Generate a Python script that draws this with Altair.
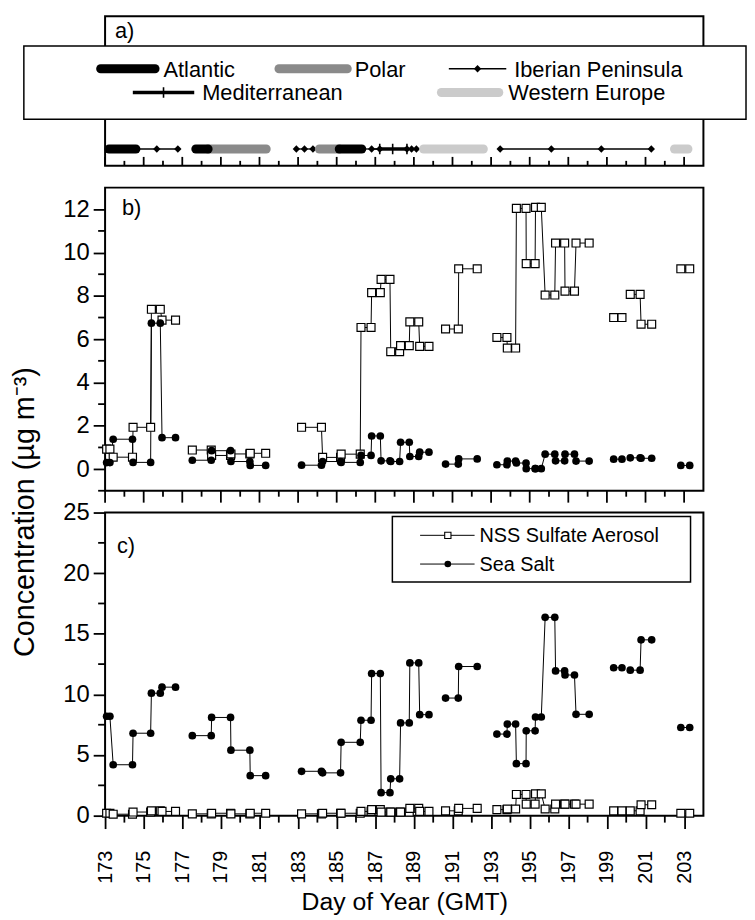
import altair as alt
import pandas as pd

# ---------------- data ----------------
sample_start = [173.08, 173.42, 174.45, 175.40, 175.95,
                177.52, 178.52, 179.52, 180.52,
                183.18, 184.27, 185.23, 186.26, 186.81, 187.30, 187.80, 188.31, 188.79, 189.30,
                190.64, 191.32,
                193.30, 193.84, 194.31, 194.82, 195.30, 195.80, 196.34, 196.83, 197.40,
                199.35, 200.21, 200.77,
                202.83]
sample_end = [173.25, 174.42, 175.36, 175.86, 176.65,
              178.50, 179.50, 180.50, 181.32,
              184.21, 185.20, 186.22, 186.78, 187.26, 187.76, 188.26, 188.76, 189.25, 189.78,
              191.30, 192.28,
              193.82, 194.27, 194.81, 195.28, 195.60, 196.30, 196.81, 197.32, 198.08,
              199.78, 200.72, 201.32,
              203.29]
sample_group = [1, 1, 1, 1, 1,
                2, 2, 2, 2,
                3, 3, 3, 3, 3, 3, 3, 3, 3, 3,
                4, 4,
                5, 5, 5, 5, 5, 5, 5, 5, 5,
                6, 7, 7,
                8]
b_nss = [0.92, 0.55, 1.93, 7.38, 6.88,
         0.88, 0.63, 0.70, 0.73,
         1.93, 0.54, 0.69, 6.54, 8.15, 8.76, 5.42, 5.70, 6.80, 5.67,
         6.47, 9.25,
         6.08, 5.59, 12.04, 9.49, 12.09, 8.04, 10.44, 8.22, 10.44,
         7.00, 8.07, 6.69,
         9.25]
b_sea_salt = [0.30, 1.38, 0.31, 6.74, 1.45,
              0.41, 0.85, 0.35, 0.17,
              0.18, 0.35, 0.31, 0.63, 1.53, 0.38, 0.35, 1.24, 0.58, 0.78,
              0.23, 0.47,
              0.20, 0.37, 0.28, 0.02, 0.02, 0.69, 0.38, 0.69, 0.37,
              0.46, 0.52, 0.50,
              0.17]
c_sea_salt = [8.2, 4.2, 6.8, 10.1, 10.6,
              6.6, 8.1, 5.4, 3.3,
              3.66, 3.53, 6.05, 7.87, 11.72, 1.9, 3.04, 7.65, 12.6, 8.33,
              9.7, 12.3,
              6.73, 7.55, 4.29, 7.0, 8.14, 16.36, 11.94, 11.6, 8.36,
              12.2, 12.0, 14.5,
              7.27]
c_nss = [0.2, 0.12, 0.3, 0.4, 0.35,
         0.15, 0.2, 0.15, 0.2,
         0.15, 0.2, 0.2, 0.35, 0.5, 0.3, 0.3, 0.3, 0.6, 0.35,
         0.4, 0.6,
         0.5, 0.55, 1.75, 0.95, 1.8, 0.55, 0.95, 0.95, 0.95,
         0.4, 0.4, 0.9,
         0.2]

series_names = ["NSS Sulfate Aerosol", "Sea Salt"]
panel_labels = ["a)", "b)", "c)"]
airmass_names = ["Atlantic", "Polar", "Iberian Peninsula", "Mediterranean", "Western Europe"]

atlantic_spans = [[173.2, 174.6], [177.7, 178.34], [185.13, 186.3]]
polar_spans = [[178.34, 181.35], [184.1, 185.13]]
western_spans = [[189.5, 192.6], [202.5, 203.2]]
iberian_runs = [[174.6, 175.68, 176.77],
                [182.91, 183.33, 183.77, 184.1],
                [186.3, 186.81, 187.23],
                [188.64, 188.88, 189.13, 189.5],
                [193.47, 196.12, 198.71, 201.3]]
mediterranean_runs = [[187.23, 187.9, 188.64]]

x_domain = [173, 204]
x_major_ticks = [173, 175, 177, 179, 181, 183, 185, 187, 189, 191, 193, 195, 197, 199, 201, 203]
x_minor_ticks = [174, 176, 178, 180, 182, 184, 186, 188, 190, 192, 194, 196, 198, 200, 202]
b_domain = [-1, 13]
b_major_ticks = [0, 2, 4, 6, 8, 10, 12]
b_minor_ticks = [-1, 1, 3, 5, 7, 9, 11]
c_domain = [0, 25]
c_major_ticks = [0, 5, 10, 15, 20, 25]
c_minor_ticks = [2.5, 7.5, 12.5, 17.5, 22.5]


# ---------------- tables built from the arrays ----------------
def sample_table(nss_vals, ss_vals):
    rows = []
    k = 0
    for name, vals in ((series_names[0], nss_vals), (series_names[1], ss_vals)):
        for i in range(len(sample_start)):
            for d in (sample_start[i], sample_end[i]):
                rows.append({"day": d, "value": vals[i], "series": name,
                             "run": f"{name}-{sample_group[i]}", "ord": k})
                k += 1
    return pd.DataFrame(rows)


def air_table():
    rows = []
    k = 0
    groups = [(airmass_names[0], atlantic_spans), (airmass_names[1], polar_spans),
              (airmass_names[2], iberian_runs), (airmass_names[3], mediterranean_runs),
              (airmass_names[4], western_spans)]
    for name, runs in groups:
        for j, run in enumerate(runs):
            for d in run:
                rows.append({"day": d, "mass": name, "run": f"{name}-{j}", "ord": k})
                k += 1
    return pd.DataFrame(rows)


df_b = sample_table(b_nss, b_sea_salt)
df_c = sample_table(c_nss, c_sea_salt)
df_air = air_table()

FONT = "Liberation Sans"
W = 604
HA, HB, HC = 151, 306, 306
TW = 1.8
xs = alt.Scale(domain=x_domain, nice=False, zero=False)


def one(label):
    return pd.DataFrame({"label": [label]})


def tick_df(values, tag):
    return pd.DataFrame({"t": values, "tag": [tag] * len(values)})


def xticks(values, y0, y1, tag, axis=None):
    return alt.Chart(tick_df(values, tag)).mark_rule(color="black", strokeWidth=TW).encode(
        x=alt.X("t:Q", scale=xs, axis=axis), y=alt.value(y0), y2=alt.value(y1))


def yticks(values, scale, length, tag, axis=None):
    return alt.Chart(tick_df(values, tag)).mark_rule(color="black", strokeWidth=TW).encode(
        y=alt.Y("t:Q", scale=scale, axis=axis), x=alt.value(-length), x2=alt.value(0))


# ---------------- panel a ----------------
YA = 134
air = alt.Chart(df_air)


def mass(i):
    return air.transform_filter(alt.datum.mass == airmass_names[i])


border_a = alt.Chart(one("")).mark_rect(fillOpacity=0, stroke="black", strokeWidth=2).encode(
    x=alt.value(0), x2=alt.value(W), y=alt.value(0), y2=alt.value(HA))

iber_line = mass(2).mark_line(color="black", strokeWidth=1.3).encode(
    x=alt.X("day:Q", scale=xs, axis=None), y=alt.value(YA), detail="run:N", order="ord:Q")
med_line = mass(3).mark_line(color="black", strokeWidth=3.5).encode(
    x=alt.X("day:Q", scale=xs, axis=None), y=alt.value(YA), detail="run:N", order="ord:Q")
med_pts = mass(3).mark_point(shape="M-1,0L1,0M0,-1L0,1", filled=False, stroke="black",
                             strokeWidth=1.6, size=110, opacity=1).encode(
    x=alt.X("day:Q", scale=xs, axis=None), y=alt.value(YA))
iber_pts = mass(2).mark_point(shape="diamond", filled=True, color="black", size=55, opacity=1).encode(
    x=alt.X("day:Q", scale=xs, axis=None), y=alt.value(YA))


def band(i, color):
    return mass(i).mark_line(color=color, strokeWidth=9, strokeCap="round").encode(
        x=alt.X("day:Q", scale=xs, axis=None), y=alt.value(YA), detail="run:N", order="ord:Q")


POLAR = "#8a8a8a"
WEST = "#cbcbcb"
polar_band = band(1, POLAR)
atl_band = band(0, "black")
west_band = band(4, WEST)
# invisible layer giving the panel a y scale
ghost_a = air.mark_point(opacity=0).encode(
    x=alt.X("day:Q", scale=xs, axis=None), y=alt.Y("ord:Q", axis=None))

legend_box_a = alt.Chart(one("")).mark_rect(fill="white", stroke="black", strokeWidth=1.5).encode(
    x=alt.value(-82), x2=alt.value(647), y=alt.value(30), y2=alt.value(104))

R1, R2 = 53, 77
leg_a = []
# (index, style, color, x0, x1, y, marker_x, text_x)
for idx, style, color, x0, x1, yy, mx, tx in [
        (0, "band", "black", -4.5, 50.5, R1, None, 59),
        (1, "band", POLAR, 175.5, 244.5, R1, None, 252),
        (2, "thin", "black", 347, 405, R1, 376, 413),
        (3, "med", "black", 28, 90, R2, 59, 98),
        (4, "band", WEST, 339.5, 397.5, R2, None, 407)]:
    base = alt.Chart(one(airmass_names[idx]))
    if style == "band":
        leg_a.append(base.mark_rule(color=color, strokeWidth=9, strokeCap="round").encode(
            x=alt.value(x0), x2=alt.value(x1), y=alt.value(yy)))
    elif style == "thin":
        leg_a.append(base.mark_rule(color="black", strokeWidth=1.3).encode(
            x=alt.value(x0), x2=alt.value(x1), y=alt.value(yy)))
        leg_a.append(base.mark_point(shape="diamond", filled=True, color="black", size=55, opacity=1).encode(
            x=alt.value(mx), y=alt.value(yy)))
    else:
        leg_a.append(base.mark_rule(color="black", strokeWidth=3.5).encode(
            x=alt.value(x0), x2=alt.value(x1), y=alt.value(yy)))
        leg_a.append(base.mark_point(shape="M-1,0L1,0M0,-1L0,1", filled=False, stroke="black",
                                     strokeWidth=1.6, size=110, opacity=1).encode(
            x=alt.value(mx), y=alt.value(yy)))
    leg_a.append(base.mark_text(align="left", baseline="middle", fontSize=22).encode(
        x=alt.value(tx), y=alt.value(yy + 1), text="label:N"))

label_a = alt.Chart(one(panel_labels[0])).mark_text(align="left", baseline="alphabetic", fontSize=22).encode(
    x=alt.value(10), y=alt.value(22), text="label:N")

panel_a = alt.layer(
    iber_line, med_line, med_pts, iber_pts, polar_band, atl_band, west_band, ghost_a,
    xticks(x_major_ticks, HA - 9, HA, "a-major"), xticks(x_minor_ticks, HA - 5, HA, "a-minor"),
    border_a, legend_box_a, *leg_a, label_a
).properties(width=W, height=HA, view=alt.ViewBackground(stroke=None))


# ---------------- panels b and c ----------------
label_pos = {panel_labels[1]: (17, 28), panel_labels[2]: (12, 41)}


def data_panel(df, domain, ymaj, ymin, x_axis, x_tick_specs, y_axis_kw, label, height, tag, legend=None):
    ys = alt.Scale(domain=domain, nice=False, zero=False)
    y_axis = alt.Axis(values=ymaj, orient="left", tickSize=12, tickWidth=TW, labelFontSize=24,
                      labelPadding=4, format="d", domain=False, grid=False, **y_axis_kw)
    X = alt.X("day:Q", scale=xs, axis=x_axis)
    Y = alt.Y("value:Q", scale=ys, axis=y_axis)
    base = alt.Chart(df)
    lines = base.mark_line(color="black", strokeWidth=1).encode(
        x=X, y=Y, detail="run:N", order="ord:Q")
    squares = base.transform_filter(alt.datum.series == series_names[0]).mark_square(
        size=64, fill="white", stroke="black", strokeWidth=1.2, opacity=1).encode(x=X, y=Y)
    circles = base.transform_filter(alt.datum.series == series_names[1]).mark_circle(
        size=60, color="black", opacity=1).encode(x=X, y=Y)
    lab = alt.Chart(one(label)).mark_text(align="left", baseline="alphabetic", fontSize=22).encode(
        x=alt.value(label_pos[label][0]), y=alt.value(label_pos[label][1]), text="label:N")
    tick_layers = [yticks(ymin, ys, 7, tag + "-ymin", axis=y_axis)]
    for k, (vals, y0, y1) in enumerate(x_tick_specs):
        tick_layers.append(xticks(vals, y0, y1, f"{tag}-x{k}", axis=x_axis))
    layers = [lines] + tick_layers + [squares, circles, lab]
    if legend is not None:
        layers += legend
    return alt.layer(*layers).properties(width=W, height=height)


# legend for panel c
leg_c = [alt.Chart(one("")).mark_rect(fill="white", stroke="black", strokeWidth=1.5).encode(
    x=alt.value(290), x2=alt.value(591), y=alt.value(4), y2=alt.value(70))]
for i, yy in enumerate([23, 52]):
    base = alt.Chart(one(series_names[i]))
    leg_c.append(base.mark_rule(color="black", strokeWidth=1).encode(
        x=alt.value(318), x2=alt.value(373), y=alt.value(yy)))
    if i == 0:
        leg_c.append(base.mark_square(size=40, fill="white", stroke="black", strokeWidth=1.1, opacity=1).encode(
            x=alt.value(346), y=alt.value(yy)))
    else:
        leg_c.append(base.mark_circle(size=45, color="black", opacity=1).encode(
            x=alt.value(346), y=alt.value(yy)))
    leg_c.append(base.mark_text(align="left", baseline="middle", fontSize=20).encode(
        x=alt.value(378), y=alt.value(yy + 1), text="label:N"))

panel_b = data_panel(
    df_b, b_domain, b_major_ticks, b_minor_ticks,
    None,
    [(x_major_ticks, HB, HB + 12), (x_minor_ticks, HB, HB + 6)],
    dict(title="Concentration (µg m⁻³)", titleFontSize=29, titleAngle=270, titleX=-66,
         titleY=327, titleAlign="center", titleBaseline="bottom"),
    panel_labels[1], HB, "b")

x_axis_c = alt.Axis(values=x_major_ticks, orient="bottom", tickSize=13, tickWidth=TW,
                    labelAngle=270, labelPadding=22, labelFontSize=20, labelFlush=False,
                    labelOverlap=False, format="d", title="Day of Year (GMT)", titleFontSize=25,
                    titleY=95, titleBaseline="alphabetic", domain=False, grid=False)

panel_c = data_panel(
    df_c, c_domain, c_major_ticks, c_minor_ticks,
    x_axis_c,
    [(x_minor_ticks, HC, HC + 7)],
    dict(title=None),
    panel_labels[2], HC, "c", legend=leg_c)

chart = alt.vconcat(panel_a, panel_b, panel_c, spacing=22, bounds="flush").properties(
    padding={"left": 2, "top": 3, "right": 0, "bottom": 0}
).configure_view(stroke="black", strokeWidth=2).configure_axis(
    labelFont=FONT, titleFont=FONT, labelColor="black", titleColor="black", tickColor="black",
    titleFontWeight="normal"
).configure_text(font=FONT, color="black")

chart.save("out.html", embed_options={"renderer": "svg", "actions": False})
